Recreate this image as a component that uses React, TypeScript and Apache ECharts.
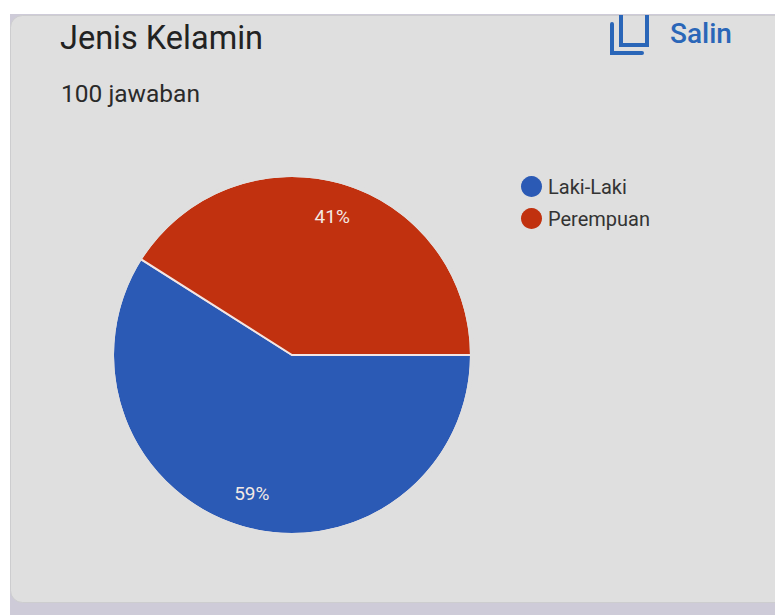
import React, { useEffect, useRef } from "react";
import * as echarts from "echarts";

const categories = ["Laki-Laki", "Perempuan"];
const shares = [59, 41];
const sliceColors = ["#2b5ab5", "#c1310f"];

const heading = "Jenis Kelamin";
const responseCount = "100 jawaban";
const copyLabel = "Salin";

const FONT = "Roboto, sans-serif";
const CARD = "#dfdfdf";
const ACCENT = "#2a66b8";
const PIE_CENTER = [292, 355];
const PIE_RADIUS = 178;

export default function App() {
  const ref = useRef<HTMLDivElement>(null);

  useEffect(() => {
    const chart = echarts.init(ref.current!, undefined, { renderer: "svg" });
    const slices = categories.map((name, i) => ({
      name,
      value: shares[i],
      itemStyle: { color: sliceColors[i] },
    }));

    chart.setOption({
      animation: false,
      backgroundColor: "#ffffff",
      graphic: [
        { type: "rect", z: -3, silent: true, shape: { x: 10, y: 14, width: 780, height: 601 }, style: { fill: "#cecbd8" } },
        {
          type: "rect",
          z: -2,
          silent: true,
          shape: { x: 10.5, y: 15.5, width: 780, height: 587, r: 12 },
          style: { fill: CARD, stroke: "#cdcdcf", lineWidth: 1 },
        },
        { type: "text", x: 60, y: 38, style: { text: heading, font: `400 32.5px ${FONT}`, fill: "#222222", verticalAlign: "middle" } },
        { type: "text", x: 61, y: 93, style: { text: responseCount, font: `400 24.5px ${FONT}`, fill: "#2a2a2a", verticalAlign: "middle" } },
        { type: "text", x: 670, y: 33, style: { text: copyLabel, font: `500 28px ${FONT}`, fill: ACCENT, verticalAlign: "middle" } },
        // Copy icon: an open-topped sheet over the edge of a second one
        {
          type: "polyline",
          shape: { points: [[621, 15], [621, 45], [647, 45], [647, 15]] },
          style: { stroke: ACCENT, lineWidth: 4, fill: "none" },
        },
        {
          type: "polyline",
          shape: { points: [[612, 24], [612, 53], [642, 53]] },
          style: { stroke: ACCENT, lineWidth: 4, fill: "none", lineCap: "round" },
        },
        // Card-coloured collar that trims the slice border off the outer rim
        {
          type: "ring",
          z: 10,
          silent: true,
          shape: { cx: PIE_CENTER[0], cy: PIE_CENTER[1], r: PIE_RADIUS + 4, r0: PIE_RADIUS },
          style: { fill: CARD },
        },
      ],
      legend: {
        orient: "vertical",
        left: 521,
        top: 176,
        icon: "circle",
        itemWidth: 21,
        itemHeight: 21,
        itemGap: 11,
        padding: 0,
        selectedMode: false,
        data: categories,
        itemStyle: { borderWidth: 0 },
        textStyle: { fontFamily: FONT, fontSize: 20, lineHeight: 21, color: "#333333", padding: [0, 0, 0, 1] },
      },
      series: [
        {
          type: "pie",
          center: PIE_CENTER,
          radius: PIE_RADIUS + 1,
          startAngle: 0,
          clockwise: true,
          silent: true,
          label: { show: false },
          labelLine: { show: false },
          itemStyle: { borderColor: "#f3e6e4", borderWidth: 2 },
          data: slices,
        },
        // Transparent ring whose mid-radius puts the percentages near the rim
        {
          type: "pie",
          center: PIE_CENTER,
          radius: [104, PIE_RADIUS],
          startAngle: 0,
          clockwise: true,
          silent: true,
          label: {
            show: true,
            position: "inside",
            formatter: "{c}%",
            fontFamily: FONT,
            fontSize: 19,
            color: "#f3e9e4",
          },
          labelLine: { show: false },
          data: slices.map((s) => ({ name: s.name, value: s.value, itemStyle: { color: "transparent", borderWidth: 0 } })),
        },
      ],
    });

    return () => chart.dispose();
  }, []);

  return <div ref={ref} style={{ position: "absolute", left: 0, top: 0, width: 775, height: 615 }} />;
}
